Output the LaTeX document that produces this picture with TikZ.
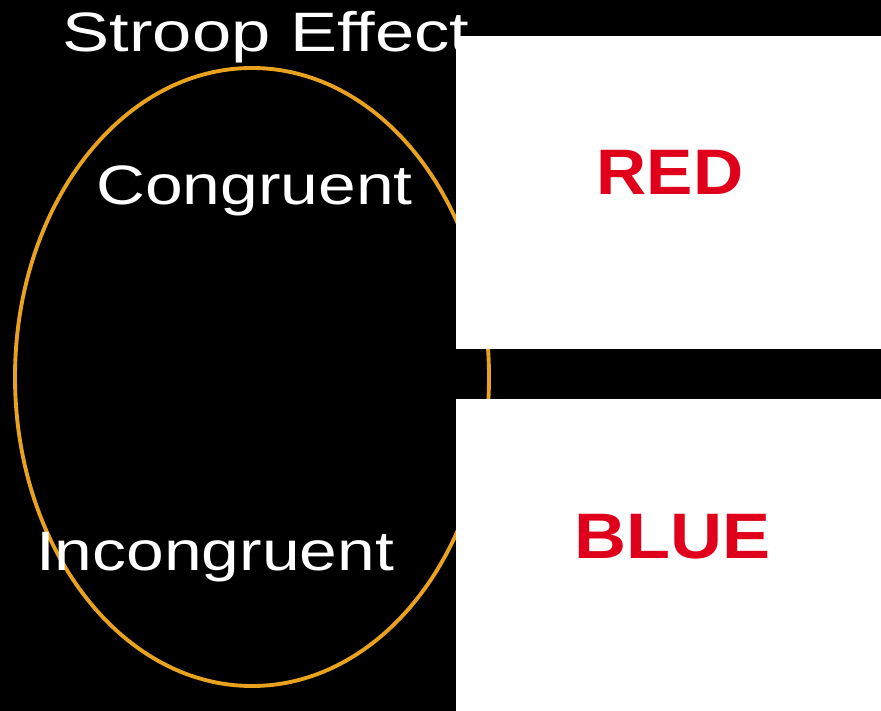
\documentclass[tikz,border=0pt]{standalone}
\usepackage{fontspec}
\usepackage{graphicx}
\setmainfont{Liberation Sans}
\usetikzlibrary{shapes.geometric, positioning}
\definecolor{ringorange}{HTML}{E8A21E}
\definecolor{wordred}{HTML}{E0001B}
\newcommand{\widen}[2][1.22]{\scalebox{#1}[1]{#2}}
\tikzstyle{label} = [text=white, font=\fontsize{15.8}{19}\selectfont, inner sep=0pt, anchor=base]
\tikzstyle{card} = [rectangle, fill=white, draw=none, anchor=north west, inner sep=0pt]
\tikzstyle{word} = [text=wordred, font=\fontsize{18.3}{22}\selectfont\bfseries, inner sep=0pt, anchor=base]
\tikzstyle{ring} = [ellipse, draw=ringorange, line width=1.1pt, inner sep=0pt, minimum width=4.74cm, minimum height=6.18cm]

\begin{document}
\begin{tikzpicture}

  % Background
  \fill[black] (0,0) rectangle (8.81,-7.11);
  \useasboundingbox (0,0) rectangle (8.81,-7.11);

  % Grouping ring
  \node (ring) at (2.52,-3.77) [ring] {};

  % Stimulus cards
  \node (redcard) at (4.55,-0.35) [card, minimum width=4.26cm, minimum height=3.13cm] {};
  \node (bluecard) at (4.55,-3.98) [card, minimum width=4.26cm, minimum height=3.13cm] {};

  % Words on the cards
  \node (redword) at (6.70,-1.95) [word] {\widen[1.08]{RED}};
  \node (blueword) at (6.73,-5.58) [word] {\widen[1.12]{BLUE}};

  % Condition labels
  \node (congruent) at (2.545,-2.05) [label] {\widen{Congruent}};
  \node (incongruent) at (2.15,-5.70) [label] {\widen{Incongruent}};

  % Title
  \node (title) at (2.66,-0.52) [label] {\widen[1.27]{Stroop Effect}};

\end{tikzpicture}
\end{document}
